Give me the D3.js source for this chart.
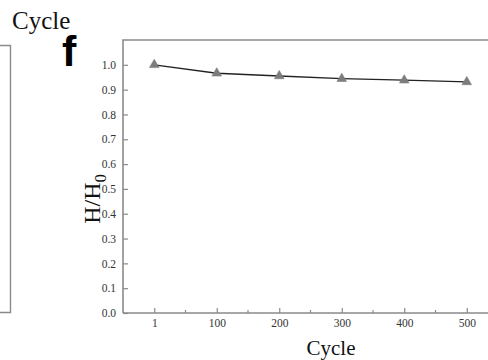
<!DOCTYPE html>
<html>
<head>
<meta charset="utf-8">
<script src="https://cdn.jsdelivr.net/npm/d3@7"></script>
<style>
  html, body { margin: 0; padding: 0; background: #fff; }
  svg { display: block; }
</style>
</head>
<body>
<svg id="chart" width="488" height="360"></svg>
<script>
// Retention of H/H0 over charge cycles
const cycles = ["1", "100", "200", "300", "400", "500"];
const ratio = [1.0, 0.966, 0.955, 0.944, 0.938, 0.931];
const yTicks = [0.0, 0.1, 0.2, 0.3, 0.4, 0.5, 0.6, 0.7, 0.8, 0.9, 1.0];

const svg = d3.select("#chart");
const W = 488, H = 360;
const plot = { left: 123, top: 40, right: 498, bottom: 313 };
const axisColor = "#8a8a8a";
const serif = "'Liberation Serif', 'Times New Roman', serif";

const x = d3.scalePoint().domain(cycles).range([plot.left, plot.right]).padding(0.5);
const y = d3.scaleLinear().domain([0, 1.1]).range([plot.bottom, plot.top]);

// neighbouring panel edge on the left
svg.append("path")
  .attr("d", "M0,45.5H10.5V312.5H0")
  .attr("fill", "none").attr("stroke", axisColor).attr("stroke-width", 1.4);

// x-axis title of the panel above
svg.append("text").attr("x", 12).attr("y", 29)
  .attr("font-family", serif).attr("font-size", 25).attr("fill", "#111")
  .text("Cycle");

// panel letter
svg.append("text").attr("x", 62).attr("y", 66)
  .attr("font-family", "'Liberation Sans', Arial, sans-serif")
  .attr("font-weight", "bold").attr("font-size", 43).attr("fill", "#000")
  .text("f");

// frame: top and left edges
svg.append("path")
  .attr("d", `M${plot.left},${plot.bottom}V${plot.top}H${W}`)
  .attr("fill", "none").attr("stroke", axisColor).attr("stroke-width", 1.6);

// y axis (ticks pointing inward)
const yAxis = d3.axisLeft(y).tickValues(yTicks).tickSizeInner(-5).tickSizeOuter(0)
  .tickPadding(7).tickFormat(d3.format(".1f"));
const gy = svg.append("g").attr("transform", `translate(${plot.left},0)`).call(yAxis);
gy.attr("font-family", serif);
gy.select(".domain").remove();
gy.selectAll(".tick line").attr("stroke", axisColor).attr("stroke-width", 1.2);
gy.selectAll(".tick text").attr("font-size", 11.5).attr("fill", "#333");

// x axis (ticks pointing inward), minor ticks halfway between categories
const xAxis = d3.axisBottom(x).tickSizeInner(-5).tickSizeOuter(0).tickPadding(6);
const gx = svg.append("g").attr("transform", `translate(0,${plot.bottom})`).call(xAxis);
gx.attr("font-family", serif);
gx.select(".domain").attr("d", `M${plot.left},0H${W}`)
  .attr("stroke", axisColor).attr("stroke-width", 1.6);
gx.selectAll(".tick line").attr("stroke", axisColor).attr("stroke-width", 1.2);
gx.selectAll(".tick text").attr("font-size", 11.5).attr("fill", "#333");
const step = x.step();
gx.selectAll(".minor").data(cycles.slice(0, -1)).enter().append("line")
  .attr("class", "minor")
  .attr("x1", d => x(d) + step / 2).attr("x2", d => x(d) + step / 2)
  .attr("y1", 0).attr("y2", -3)
  .attr("stroke", axisColor).attr("stroke-width", 1.2);

// axis titles
svg.append("text").attr("x", 331).attr("y", 355)
  .attr("text-anchor", "middle")
  .attr("font-family", serif).attr("font-size", 21).attr("fill", "#111")
  .text("Cycle");

const yl = svg.append("text")
  .attr("transform", `translate(100,${y(0.46)}) rotate(-90)`)
  .attr("text-anchor", "middle")
  .attr("font-family", serif).attr("font-size", 24).attr("fill", "#111");
yl.append("tspan").text("H/H");
yl.append("tspan").attr("dy", 6).attr("font-size", 17).text("0");

// data line and triangle markers
const pts = cycles.map((c, i) => [x(c), y(ratio[i])]);
svg.append("path").datum(pts)
  .attr("d", d3.line())
  .attr("fill", "none").attr("stroke", "#222").attr("stroke-width", 1.3);

const tri = d3.symbol().type(d3.symbolTriangle).size(40);
svg.selectAll(".pt").data(pts).enter().append("path")
  .attr("class", "pt")
  .attr("transform", d => `translate(${d[0]},${d[1]})`)
  .attr("d", tri)
  .attr("fill", "#7d7d7d").attr("stroke", "#7d7d7d").attr("stroke-width", 0.6);
</script>
</body>
</html>
